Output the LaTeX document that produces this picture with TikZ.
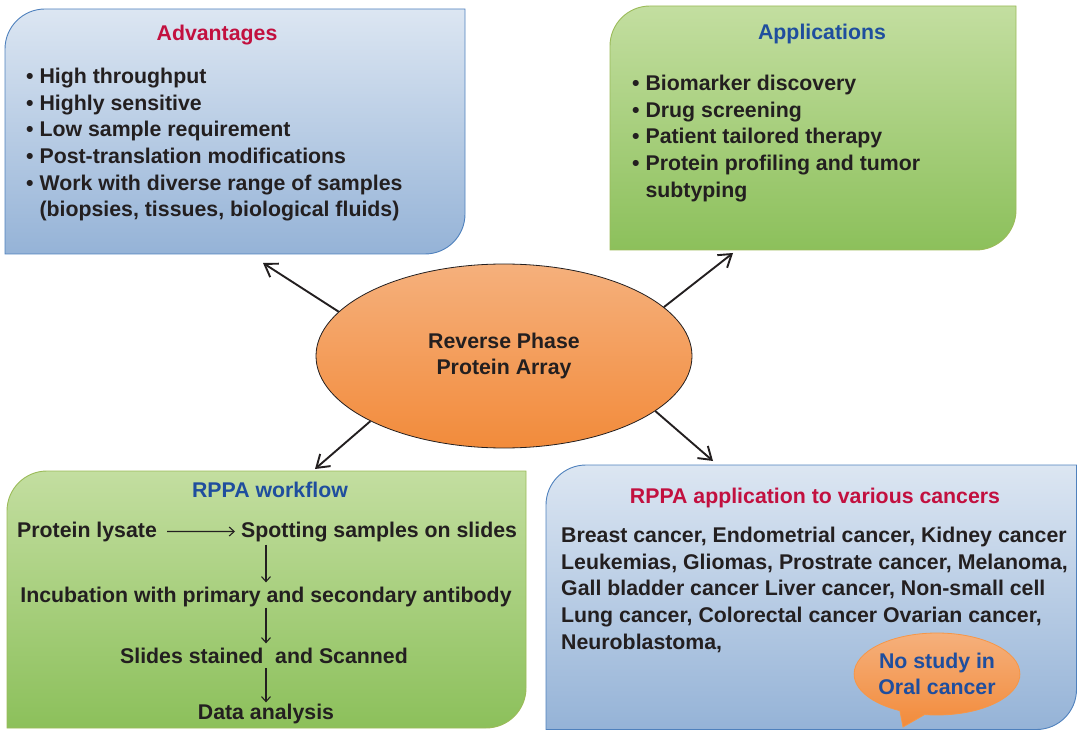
\documentclass[tikz,border=0pt]{standalone}
\usepackage{fontspec}
\setmainfont{Liberation Sans}
\usetikzlibrary{arrows.meta,positioning,shapes.geometric,shapes.callouts,backgrounds}
\definecolor{RppaInk}{HTML}{231F20}
\definecolor{RppaBlueTop}{HTML}{DCE6F2}
\definecolor{RppaBlueBot}{HTML}{95B3D7}
\definecolor{RppaBlueLine}{HTML}{4F81BD}
\definecolor{RppaGreenTop}{HTML}{C3DEA0}
\definecolor{RppaGreenBot}{HTML}{8CC05B}
\definecolor{RppaGreenLine}{HTML}{9BBB59}
\definecolor{RppaOrangeTop}{HTML}{F5B07C}
\definecolor{RppaOrangeBot}{HTML}{F28B3B}
\definecolor{RppaOrangeLine}{HTML}{F79646}
\definecolor{RppaCrimson}{HTML}{C2103F}
\definecolor{RppaTitleBlue}{HTML}{1F4E9E}
\tikzset{
  rppapanel/.style={
    inner sep=0,
    outer sep=0
  },
  rppatext/.style={
    font=\fontsize{21.3}{26.7}\selectfont\bfseries,
    text=RppaInk,
    inner sep=0
  },
  rppalist/.style={rppatext,align=left,anchor=north west},
  rppahead/.style={rppatext,anchor=base},
  rppacore/.style={
    rppatext,
    ellipse,
    draw=RppaInk,
    line width=.8pt,
    top color=RppaOrangeTop,
    bottom color=RppaOrangeBot,
    minimum width=376pt,
    minimum height=184pt,
    align=center
  },
  rppacall/.style={
    rppatext,
    ellipse callout,
    draw=RppaOrangeLine,
    line width=.8pt,
    top color=RppaOrangeTop,
    bottom color=RppaOrangeBot,
    minimum width=164pt,
    minimum height=82pt,
    callout pointer arc=18,
    align=center,
    text=RppaTitleBlue
  },
  rppaarrow/.style={-{Straight Barb[length=12pt,width=16pt]},line width=1.9pt,draw=RppaInk},
  rppastep/.style={-{Straight Barb[length=5pt,width=9pt]},line width=1.1pt,draw=RppaInk}
}
% outline with rounded top-left and bottom-right corners
\newcommand\rppaframe[4]{%
  \path[draw=#2,line width=.9pt,top color=#3,bottom color=#4]
    (#1.south west) -- ([yshift=-40pt]#1.north west)
    arc[start angle=180,end angle=90,radius=40pt]
    -- (#1.north east) -- ([yshift=40pt]#1.south east)
    arc[start angle=0,end angle=-90,radius=40pt] -- cycle;}

\begin{document}
\begin{tikzpicture}[x=1pt,y=-1pt]
  \useasboundingbox (0,0) rectangle (1077,730);

  \node[rppapanel,minimum width=460pt,minimum height=245pt] (adv) at (235,131.5) {};
  \node[rppapanel,minimum width=406pt,minimum height=244pt] (appl) at (813,128) {};
  \node[rppapanel,minimum width=519pt,minimum height=257pt] (flow) at (266.5,599.5) {};
  \node[rppapanel,minimum width=530.5pt,minimum height=264.5pt] (cancers) at (811.25,597.25) {};
  \begin{scope}[on background layer]
    \rppaframe{adv}{RppaBlueLine}{RppaBlueTop}{RppaBlueBot}
    \rppaframe{appl}{RppaGreenLine}{RppaGreenTop}{RppaGreenBot}
    \rppaframe{flow}{RppaGreenLine}{RppaGreenTop}{RppaGreenBot}
    \rppaframe{cancers}{RppaBlueLine}{RppaBlueTop}{RppaBlueBot}
  \end{scope}

  % advantages
  \node[rppahead,text=RppaCrimson] (advtitle) at (217,40.7) {Advantages};
  \node[rppalist] (advlist) at (26,67.7) {
    \textbullet\ High throughput\\
    \textbullet\ Highly sensitive\\
    \textbullet\ Low sample requirement\\
    \textbullet\ Post-translation modifications\\
    \textbullet\ Work with diverse range of samples\\
    \phantom{\textbullet\ }(biopsies, tissues, biological fluids)
  };

  % applications
  \node[rppahead,text=RppaTitleBlue] (appltitle) at (822,40) {Applications};
  \node[rppalist] (appllist) at (632,74.7) {
    \textbullet\ Biomarker discovery\\
    \textbullet\ Drug screening\\
    \textbullet\ Patient tailored therapy\\
    \textbullet\ Protein profiling and tumor\\
    \phantom{\textbullet\ }subtyping
  };

  % core
  \node[rppacore] (core) at (504,356) {Reverse Phase\\Protein Array};
  \coordinate (advtip) at (263,263);
  \coordinate (appltip) at (733,253);
  \coordinate (flowtip) at (315,469);
  \coordinate (cancertip) at (713,461);
  \draw[rppaarrow] (core.165) -- (advtip);
  \draw[rppaarrow] (core.17) -- (appltip);
  \draw[rppaarrow] (core.206) -- (flowtip);
  \draw[rppaarrow] (core.340) -- (cancertip);

  % workflow
  \node[rppahead,text=RppaTitleBlue] (flowtitle) at (270,497) {RPPA workflow};
  \node[rppatext,anchor=base west] (lysate) at (17,537) {Protein lysate};
  \node[rppatext,anchor=base west] (spotting) at (241,537) {Spotting samples on slides};
  \node[rppahead] (incub) at (266,602) {Incubation with primary and secondary antibody};
  \node[rppahead] (stained) at (264,663) {Slides stained~\ and Scanned};
  \node[rppahead] (analysis) at (266,719) {Data analysis};
  \draw[rppastep,shorten <=10pt,shorten >=6pt] (lysate) -- (spotting);
  \draw[rppastep,shorten <=3pt,shorten >=4pt] (incub.north |- spotting.south) -- (incub.north);
  \draw[rppastep,shorten <=1pt,shorten >=4pt] (incub.south) -- (stained.north -| incub.south);
  \draw[rppastep,shorten <=5pt,shorten >=1pt] (stained.south -| incub.south) -- (analysis.north -| incub.south);

  % cancers
  \node[rppahead,text=RppaCrimson] (cancertitle) at (815,503) {RPPA application to various cancers};
  \node[rppalist] (cancerlist) at (561,526.7) {
    Breast cancer, Endometrial cancer, Kidney cancer\\
    Leukemias, Gliomas, Prostrate cancer, Melanoma,\\
    Gall bladder cancer Liver cancer, Non-small cell\\
    Lung cancer, Colorectal cancer Ovarian cancer,\\
    Neuroblastoma,
  };
  \node[rppacall,callout absolute pointer={(903,727)}] (nostudy) at (937,674) {No study in\\Oral cancer};
\end{tikzpicture}
\end{document}
